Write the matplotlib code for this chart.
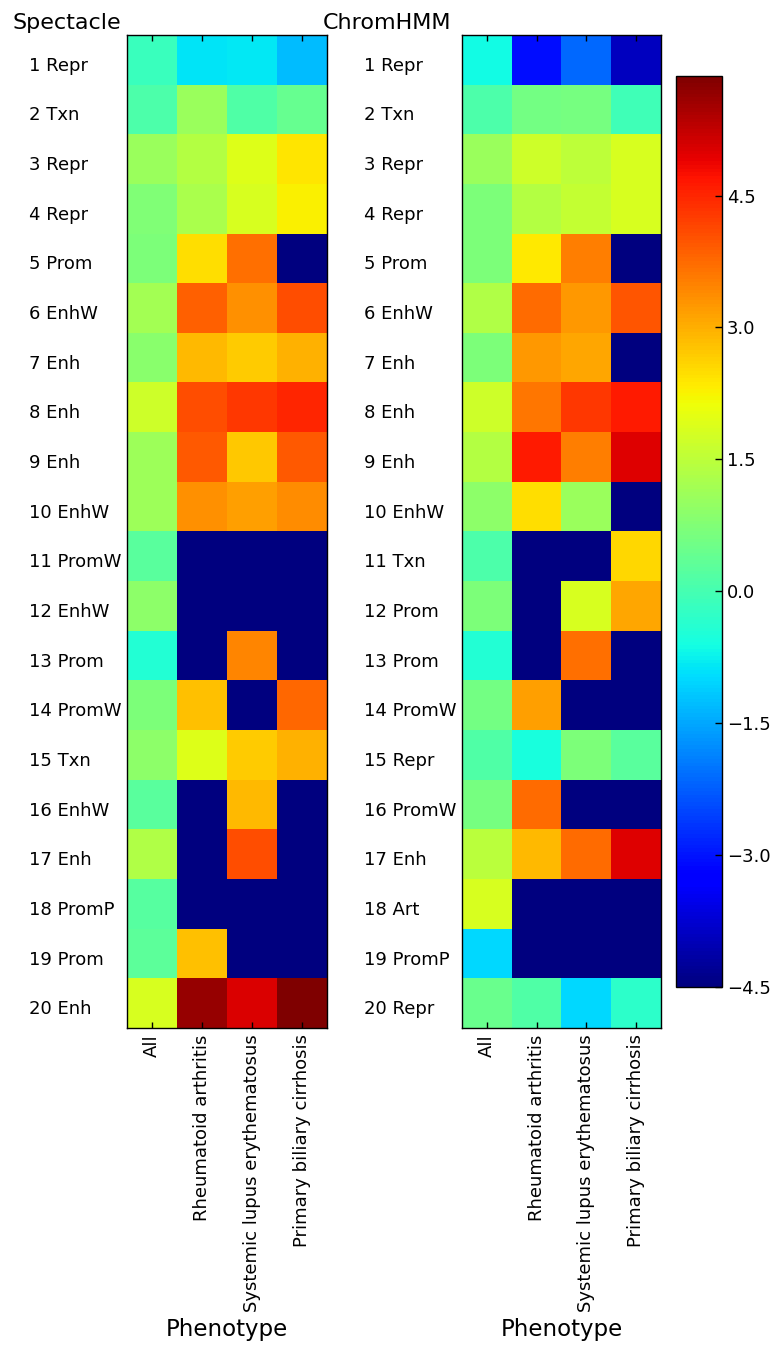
import numpy as np
import matplotlib
matplotlib.use("Agg")
import matplotlib.pyplot as plt
import matplotlib.transforms as mtransforms

phenotypes = ["All", "Rheumatoid arthritis", "Systemic lupus erythematosus",
              "Primary biliary cirrhosis"]

spectacle_states = ["1 Repr", "2 Txn", "3 Repr", "4 Repr", "5 Prom", "6 EnhW", "7 Enh",
                    "8 Enh", "9 Enh", "10 EnhW", "11 PromW", "12 EnhW", "13 Prom",
                    "14 PromW", "15 Txn", "16 EnhW", "17 Enh", "18 PromP", "19 Prom",
                    "20 Enh"]
chromhmm_states = ["1 Repr", "2 Txn", "3 Repr", "4 Repr", "5 Prom", "6 EnhW", "7 Enh",
                   "8 Enh", "9 Enh", "10 EnhW", "11 Txn", "12 Prom", "13 Prom",
                   "14 PromW", "15 Repr", "16 PromW", "17 Enh", "18 Art", "19 PromP",
                   "20 Repr"]

# columns: All, RA, SLE, PBC  (log enrichment; -4.5 = none)
spectacle_all = [-0.15, 0.08, 1.05, 0.73, 0.70, 1.20, 0.88, 1.70, 1.10, 1.10,
                 0.25, 0.90, -0.45, 0.72, 0.90, 0.25, 1.35, 0.20, 0.30, 1.85]
spectacle_ra = [-0.88, 1.05, 1.37, 1.27, 2.49, 3.85, 2.90, 4.07, 3.94, 3.33,
                -4.5, -4.5, -4.5, 2.82, 1.90, -4.5, -4.5, -4.5, 2.82, 5.62]
spectacle_sle = [-0.85, 0.15, 1.90, 1.85, 3.68, 3.33, 2.68, 4.30, 2.74, 3.18,
                 -4.5, -4.5, 3.44, -4.5, 2.68, 2.87, 4.07, -4.5, -4.5, 5.05]
spectacle_pbc = [-1.27, 0.40, 2.40, 2.28, -4.5, 4.07, 2.96, 4.50, 3.94, 3.38,
                 -4.5, -4.5, -4.5, 3.78, 2.96, -4.5, -4.5, -4.5, -4.5, 5.86]

chromhmm_all = [-0.65, 0.10, 1.05, 0.72, 0.72, 1.35, 0.72, 1.70, 1.37, 0.90,
                0.10, 0.72, -0.45, 0.57, 0.15, 0.60, 1.45, 1.85, -1.00, 0.45]
chromhmm_ra = [-3.08, 0.57, 1.70, 1.37, 2.35, 3.73, 3.25, 3.60, 4.64, 2.49,
               -4.5, -4.5, -4.5, 3.18, -0.55, 3.73, 2.90, -4.5, -4.5, 0.15]
chromhmm_sle = [-2.12, 0.60, 1.50, 1.60, 3.52, 3.25, 3.10, 4.30, 3.52, 1.05,
                -4.5, 1.85, 3.68, -4.5, 0.72, -4.5, 3.73, -4.5, -4.5, -1.00]
chromhmm_pbc = [-3.93, -0.05, 1.82, 1.82, -4.5, 3.99, -4.5, 4.64, 5.00, -4.5,
                2.55, 3.10, -4.5, -4.5, 0.25, -4.5, 4.97, -4.5, -4.5, -0.30]

cbar_ticks = [-4.5, -3.0, -1.5, 0.0, 1.5, 3.0, 4.5]
VMIN, VMAX = -4.5, 5.86

spectacle = np.column_stack([spectacle_all, spectacle_ra, spectacle_sle, spectacle_pbc])
chromhmm = np.column_stack([chromhmm_all, chromhmm_ra, chromhmm_sle, chromhmm_pbc])

W, H = 773, 1345
fig = plt.figure(figsize=(W / 100, H / 100), dpi=100)

def fx(px):
    return px / W

def fy(py):
    return 1 - py / H

top, bottom = 35, 1028
axL = fig.add_axes([fx(127), fy(bottom), fx(327) - fx(127), fy(top) - fy(bottom)])
axR = fig.add_axes([fx(462), fy(bottom), fx(661) - fx(462), fy(top) - fy(bottom)])
cax = fig.add_axes([fx(676), fy(987), fx(722) - fx(676), fy(76) - fy(987)])

shift = mtransforms.ScaledTranslation(0, -4 / 100, fig.dpi_scale_trans)

for ax, data, states, title, tx in [(axL, spectacle, spectacle_states, "Spectacle", 13),
                                    (axR, chromhmm, chromhmm_states, "ChromHMM", 323)]:
    im = ax.imshow(data, cmap="jet", vmin=VMIN, vmax=VMAX, aspect="auto",
                   interpolation="nearest")
    ax.set_xticks(range(len(phenotypes)))
    ax.set_xticklabels(phenotypes, rotation=90, fontsize=13)
    ax.set_yticks(range(len(states)))
    ax.set_yticklabels(states, fontsize=13, ha="left")
    ax.tick_params(axis="y", length=0, pad=70.3)
    ax.tick_params(axis="x", direction="in", length=4, top=True, bottom=True,
                   width=1, pad=4.5)
    for lab in ax.get_yticklabels():
        lab.set_transform(lab.get_transform() + shift)
    ax.set_xlabel("Phenotype", fontsize=16.5)
    for s in ax.spines.values():
        s.set_linewidth(1.0)
    fig.text(fx(tx), fy(29), title, fontsize=16, ha="left", va="baseline")

cb = fig.colorbar(im, cax=cax, ticks=cbar_ticks)
cb.ax.tick_params(direction="in", length=5, labelsize=13, width=1)
cb.outline.set_linewidth(1.0)

fig.savefig("out.png", dpi=100)
